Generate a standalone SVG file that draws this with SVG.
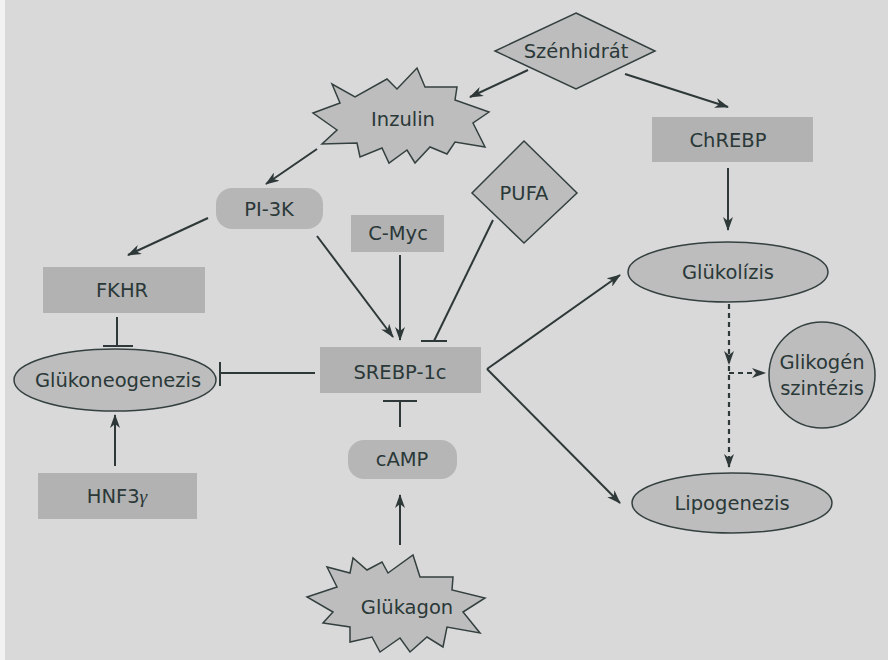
<svg xmlns="http://www.w3.org/2000/svg" width="888" height="660" viewBox="0 0 888 660">
<style>
text{font-family:"DejaVu Sans","Liberation Sans",sans-serif;font-size:19.5px;fill:#2a3838;text-anchor:middle;dominant-baseline:central}
.box{fill:#b2b2b2}
.pill{fill:#b6b6b6}
.shape{fill:#bdbdbd;stroke:#34403f;stroke-width:1.5}
.c{stroke:#2e3838;stroke-width:2;fill:none}
.arr{marker-end:url(#ah)}
.dash{stroke-dasharray:5,4;stroke-width:2.2}
</style>
<defs>
<marker id="ah" viewBox="0 0 14 10" refX="13" refY="5" markerWidth="14" markerHeight="10" markerUnits="userSpaceOnUse" orient="auto">
<path d="M0,0 L14,5 L0,10 L4,5 z" fill="#2e3838"/>
</marker>
</defs>
<rect width="888" height="660" fill="#d9d9d9"/>
<rect x="0" y="0" width="5" height="660" fill="#f2f2f2"/>

<g id="szenhidrat"><polygon class="shape" points="576,13 655,51 576,89 495,51"/><text x="576" y="51">Szénhidrát</text></g>
<g id="inzulin"><polygon class="shape" points="313,113 340,103 332,84 355,97 387,79 397,89 417,68 425,87 457,87 455,100 489,112 473,123 485,147 455,142 447,154 430,147 415,163 407,150 389,163 382,148 360,157 357,143 322,144 337,130"/><text x="403" y="119">Inzulin</text></g>
<g id="chrebp"><rect class="box" x="652" y="117" width="161" height="45"/><text x="728" y="140">ChREBP</text></g>
<g id="pufa"><polygon class="shape" points="524,141 577,193 524,243 472,193"/><text x="524" y="193">PUFA</text></g>
<g id="pi3k"><rect class="pill" x="216" y="188" width="107" height="41" rx="16"/><text x="269" y="209">PI-3K</text></g>
<g id="cmyc"><rect class="box" x="351" y="215" width="93" height="37"/><text x="398" y="233">C-Myc</text></g>
<g id="fkhr"><rect class="box" x="43" y="267" width="162" height="46"/><text x="122" y="290">FKHR</text></g>
<g id="glukolizis"><ellipse class="shape" cx="728" cy="272" rx="100" ry="30"/><text x="728" y="272">Glükolízis</text></g>
<g id="srebp"><rect class="box" x="320" y="347" width="161" height="46"/><text x="400" y="372">SREBP-1c</text></g>
<g id="glukoneogenezis"><ellipse class="shape" cx="115" cy="380" rx="101" ry="31"/><text x="118" y="380">Glükoneogenezis</text></g>
<g id="glikogen"><circle class="shape" cx="822" cy="375" r="53"/><text x="822" y="362">Glikogén</text><text x="822" y="388">szintézis</text></g>
<g id="camp"><rect class="pill" x="348" y="440" width="109" height="39" rx="16"/><text x="402" y="459">cAMP</text></g>
<g id="hnf3"><rect class="box" x="38" y="473" width="159" height="46"/><text x="117" y="496">HNF3<tspan font-family="Liberation Serif,serif" font-style="italic">γ</tspan></text></g>
<g id="lipogenezis"><ellipse class="shape" cx="732" cy="503" rx="100" ry="30"/><text x="732" y="503">Lipogenezis</text></g>
<g id="glukagon"><polygon class="shape" points="307,597 337,587 327,567 350,573 353,558 367,570 382,562 388,573 413,555 420,577 453,577 452,590 485,598 463,612 480,633 447,627 443,647 427,637 410,652 400,638 380,652 372,637 350,642 350,627 323,623 333,612"/><text x="407" y="607">Glükagon</text></g>

<g id="connectors">
<line class="c arr" x1="528" y1="70" x2="470" y2="97"/>
<line class="c arr" x1="625" y1="74" x2="728" y2="107"/>
<line class="c arr" x1="317" y1="149" x2="266" y2="184"/>
<line class="c arr" x1="728" y1="168" x2="728" y2="230"/>
<line class="c arr" x1="208" y1="218" x2="128" y2="255"/>
<line class="c arr" x1="317" y1="236" x2="393" y2="337"/>
<line class="c arr" x1="400" y1="255" x2="400" y2="340"/>
<line class="c" x1="493" y1="220" x2="434" y2="341"/>
<line class="c" x1="421" y1="341" x2="447" y2="341"/>
<line class="c" x1="117" y1="317" x2="117" y2="346"/>
<line class="c" x1="103" y1="346" x2="133" y2="346"/>
<line class="c" x1="315" y1="373" x2="220" y2="373"/>
<line class="c" x1="220" y1="362" x2="220" y2="386"/>
<line class="c" x1="400" y1="427" x2="400" y2="401"/>
<line class="c" x1="383" y1="401" x2="417" y2="401"/>
<line class="c arr" x1="115" y1="466" x2="115" y2="415"/>
<line class="c arr" x1="400" y1="545" x2="400" y2="495"/>
<line class="c arr" x1="487" y1="369" x2="620" y2="275"/>
<line class="c arr" x1="487" y1="369" x2="620" y2="503"/>
<line class="c dash arr" x1="729" y1="304" x2="729" y2="364"/>
<line class="c dash arr" x1="729" y1="366" x2="729" y2="467"/>
<line class="c dash arr" x1="729" y1="373" x2="765" y2="373"/>
</g>
</svg>
